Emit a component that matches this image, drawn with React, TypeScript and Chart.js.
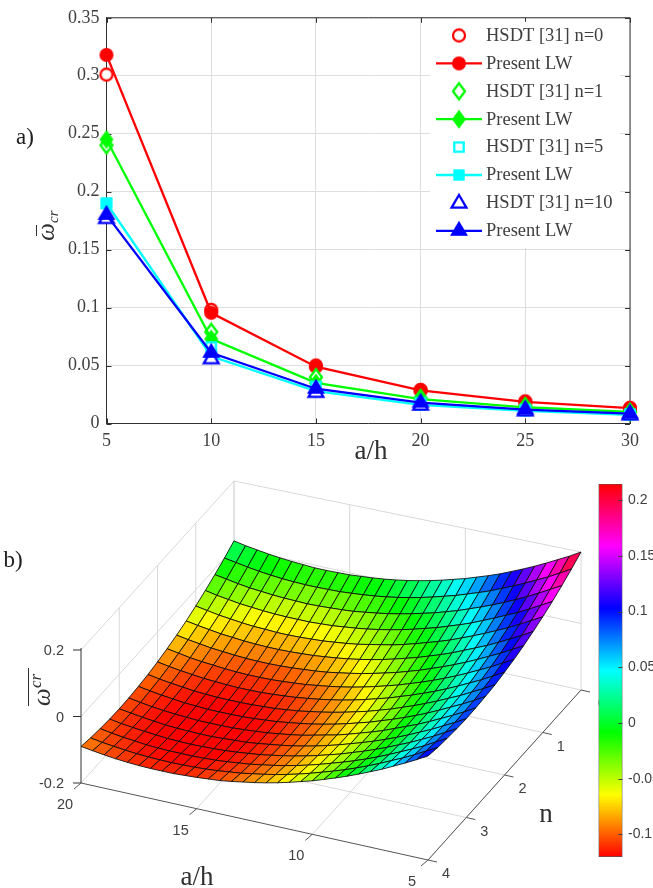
import { useEffect, useRef } from 'react';
import { Chart, registerables } from 'chart.js';

Chart.register(...registerables);

// ---------- panel a) ----------
const aOverH = [5, 10, 15, 20, 25, 30];
const hsdtN0 = [0.301, 0.098, 0.05, 0.029, 0.019, 0.0135];
const presentN0 = [0.318, 0.0955, 0.049, 0.0285, 0.0187, 0.0132];
const hsdtN1 = [0.24, 0.079, 0.04, 0.022, 0.015, 0.01];
const presentN1 = [0.245, 0.073, 0.035, 0.021, 0.014, 0.01];
const hsdtN5 = [0.19, 0.066, 0.032, 0.018, 0.012, 0.008];
const presentN5 = [0.19, 0.058, 0.028, 0.016, 0.011, 0.0075];
const hsdtN10 = [0.177, 0.056, 0.027, 0.016, 0.011, 0.0075];
const presentN10 = [0.18, 0.061, 0.03, 0.018, 0.012, 0.0085];
const yTicksA = [0, 0.05, 0.1, 0.15, 0.2, 0.25, 0.3, 0.35];
const yTickLabelsA = ['0', '0.05', '0.1', '0.15', '0.2', '0.25', '0.3', '0.35'];

// ---------- panel b) ----------
const surfaceAspect = [20, 19.5, 19, 18.5, 18, 17.5, 17, 16.5, 16, 15.5, 15, 14.5, 14, 13.5, 13, 12.5, 12, 11.5, 11, 10.5, 10, 9.5, 9, 8.5, 8, 7.5, 7, 6.5, 6, 5.5, 5];
const surfaceN = [0, 0.25, 0.5, 0.75, 1, 1.25, 1.5, 1.75, 2, 2.25, 2.5, 2.75, 3, 3.25, 3.5, 3.75, 4];
// one row per a/h, one column per n, in thousandths
const surfaceMilli = [
  [20, 0, -18, -34, -49, -62, -73, -82, -90, -96, -100, -103, -104, -103, -100, -96, -90],
  [13, -6, -24, -41, -55, -68, -79, -88, -96, -102, -106, -109, -109, -109, -106, -102, -95],
  [8, -12, -30, -46, -61, -73, -84, -94, -101, -107, -111, -114, -114, -113, -111, -106, -100],
  [3, -17, -35, -51, -65, -78, -89, -98, -105, -111, -115, -118, -118, -117, -114, -110, -104],
  [-1, -21, -38, -54, -69, -81, -92, -101, -109, -115, -119, -121, -122, -120, -118, -113, -107],
  [-4, -24, -41, -57, -72, -84, -95, -104, -111, -117, -121, -123, -124, -123, -120, -115, -109],
  [-6, -26, -43, -59, -73, -86, -97, -106, -113, -119, -123, -125, -125, -124, -121, -116, -110],
  [-8, -27, -44, -60, -75, -87, -98, -107, -114, -119, -123, -125, -126, -125, -121, -117, -110],
  [-8, -27, -45, -60, -75, -87, -98, -107, -114, -119, -123, -125, -126, -124, -121, -116, -110],
  [-7, -26, -44, -60, -74, -86, -97, -106, -113, -118, -122, -124, -124, -123, -120, -115, -108],
  [-6, -25, -42, -58, -72, -84, -95, -104, -111, -116, -120, -122, -122, -121, -118, -113, -106],
  [-3, -22, -40, -56, -70, -82, -92, -101, -108, -114, -117, -119, -120, -118, -115, -110, -103],
  [0, -19, -37, -52, -66, -78, -89, -98, -105, -110, -114, -116, -116, -114, -111, -106, -100],
  [4, -15, -32, -48, -62, -74, -85, -93, -100, -106, -109, -111, -111, -110, -107, -102, -95],
  [9, -10, -27, -43, -57, -69, -79, -88, -95, -100, -104, -106, -106, -104, -101, -96, -89],
  [15, -4, -21, -37, -50, -63, -73, -82, -89, -94, -98, -100, -100, -98, -95, -90, -83],
  [22, 3, -14, -30, -43, -56, -66, -75, -82, -87, -91, -92, -93, -91, -88, -83, -76],
  [30, 11, -6, -22, -36, -48, -58, -67, -74, -79, -83, -84, -85, -83, -80, -75, -68],
  [39, 20, 3, -13, -27, -39, -49, -58, -65, -70, -74, -76, -76, -74, -71, -66, -59],
  [49, 30, 12, -3, -17, -29, -40, -48, -55, -61, -64, -66, -66, -64, -61, -56, -49],
  [59, 40, 23, 7, -6, -19, -29, -38, -45, -50, -54, -55, -55, -54, -50, -45, -39],
  [71, 52, 34, 19, 5, -7, -18, -26, -33, -39, -42, -44, -44, -42, -39, -34, -27],
  [83, 64, 47, 31, 17, 5, -5, -14, -21, -26, -30, -32, -32, -30, -27, -22, -15],
  [96, 77, 60, 44, 31, 18, 8, -1, -8, -13, -17, -18, -19, -17, -14, -9, -2],
  [111, 92, 74, 59, 45, 33, 22, 13, 6, 1, -3, -4, -5, -3, 0, 5, 12],
  [126, 107, 89, 74, 60, 48, 37, 28, 21, 16, 12, 10, 10, 12, 15, 20, 27],
  [142, 123, 105, 90, 76, 63, 53, 44, 37, 32, 28, 26, 26, 27, 31, 36, 42],
  [159, 140, 122, 106, 92, 80, 70, 61, 54, 48, 45, 43, 42, 44, 47, 52, 59],
  [177, 157, 140, 124, 110, 98, 87, 78, 71, 66, 62, 60, 60, 61, 64, 69, 76],
  [195, 176, 159, 143, 129, 116, 106, 97, 90, 84, 80, 78, 78, 80, 83, 88, 94],
  [215, 196, 178, 162, 148, 136, 125, 116, 109, 103, 100, 98, 97, 99, 102, 106, 113],
];
const zAxisTicks = [-0.2, 0, 0.2];
const zAxisLabels = ['-0.2', '0', '0.2'];
const aAxisTicks = [20, 15, 10, 5];
const nAxisTicks = [0, 1, 2, 3, 4];

// ---------- colour bar ----------
const colorbarRange = [-0.1203, 0.2146];
const colorbarTicks = [-0.1, -0.05, 0, 0.05, 0.1, 0.15, 0.2];
const colorbarLabels = ['-0.1', '-0.05', '0', '0.05', '0.1', '0.15', '0.2'];
const colorbarHues = [0, 60, 120, 180, 240, 300, 360];

const SERIF = '"Liberation Serif", "Times New Roman", serif';
const SANS = '"Liberation Sans", Arial, sans-serif';
const TEXT = '#404040';

type Shape = 'circle' | 'diamond' | 'square' | 'triangle';

function marker(shape: Shape, color: string, filled: boolean): HTMLCanvasElement {
  const c = document.createElement('canvas');
  c.width = 28;
  c.height = 28;
  const g = c.getContext('2d')!;
  g.translate(14, 14);
  g.beginPath();
  if (shape === 'circle') {
    g.arc(0, 0, filled ? 7 : 6, 0, Math.PI * 2);
  } else if (shape === 'diamond') {
    const w = filled ? 7 : 6;
    const h = filled ? 9.5 : 8;
    g.moveTo(0, -h);
    g.lineTo(w, 0);
    g.lineTo(0, h);
    g.lineTo(-w, 0);
    g.closePath();
  } else if (shape === 'square') {
    const s = filled ? 5.7 : 4.7;
    g.rect(-s, -s, s * 2, s * 2);
  } else {
    if (filled) {
      g.moveTo(0, -10);
      g.lineTo(9, 5);
      g.lineTo(-9, 5);
    } else {
      g.moveTo(0, -8);
      g.lineTo(7.4, 4.6);
      g.lineTo(-7.4, 4.6);
    }
    g.closePath();
  }
  if (filled) {
    g.fillStyle = color;
    g.fill();
  } else {
    g.fillStyle = '#ffffff';
    g.fill();
    g.lineWidth = 2.3;
    g.strokeStyle = color;
    g.stroke();
  }
  return c;
}

function lineDataset(label: string, values: number[], color: string, shape: Shape, present: boolean, order: number) {
  return {
    label,
    data: values.map((y, i) => ({ x: aOverH[i], y })),
    borderColor: color,
    backgroundColor: color,
    borderWidth: 2.3,
    showLine: present,
    pointStyle: marker(shape, color, present),
    pointRadius: 7,
    pointHoverRadius: 7,
    clip: false,
    order,
  };
}

const panelAOverlay = {
  id: 'panelAOverlay',
  beforeDatasetsDraw(chart: any) {
    const { ctx, chartArea: a, scales } = chart;
    ctx.save();
    ctx.strokeStyle = '#303030';
    ctx.lineWidth = 1;
    ctx.beginPath();
    ctx.moveTo(a.left, a.top);
    ctx.lineTo(a.right, a.top);
    ctx.lineTo(a.right, a.bottom);
    for (const v of aOverH) {
      const x = Math.round(scales.x.getPixelForValue(v)) + 0.5;
      ctx.moveTo(x, a.bottom);
      ctx.lineTo(x, a.bottom - 5);
      ctx.moveTo(x, a.top);
      ctx.lineTo(x, a.top + 5);
    }
    for (const v of yTicksA) {
      const y = Math.round(scales.y.getPixelForValue(v)) + 0.5;
      ctx.moveTo(a.left, y);
      ctx.lineTo(a.left + 5, y);
      ctx.moveTo(a.right, y);
      ctx.lineTo(a.right - 5, y);
    }
    ctx.stroke();
    ctx.restore();
  },
  afterDatasetsDraw(chart: any) {
    const { ctx, chartArea: a } = chart;
    ctx.save();
    // legend box
    ctx.fillStyle = '#ffffff';
    ctx.fillRect(430, a.top + 4, 190, 226);
    ctx.textBaseline = 'middle';
    ctx.textAlign = 'left';
    ctx.font = `18.5px ${SERIF}`;
    chart.data.datasets.forEach((d: any, i: number) => {
      const y = 35.5 + i * 27.9;
      if (d.showLine) {
        ctx.strokeStyle = d.borderColor;
        ctx.lineWidth = 2.3;
        ctx.beginPath();
        ctx.moveTo(436, y);
        ctx.lineTo(482, y);
        ctx.stroke();
      }
      ctx.drawImage(d.pointStyle, 459 - 14, y - 14);
      ctx.fillStyle = TEXT;
      ctx.fillText(d.label, 486, y + 0.5);
    });
    // titles
    ctx.fillStyle = '#303030';
    ctx.font = `27px ${SERIF}`;
    ctx.textAlign = 'center';
    ctx.fillText('a/h', 371, 452);
    ctx.fillStyle = '#202020';
    ctx.font = `23px ${SERIF}`;
    ctx.fillText('a)', 25, 138);
    // rotated y title
    ctx.fillStyle = '#303030';
    ctx.save();
    ctx.translate(54, 232);
    ctx.rotate(-Math.PI / 2);
    ctx.font = `italic 25px ${SERIF}`;
    ctx.textBaseline = 'alphabetic';
    ctx.fillText('\u03c9', 0, 0);
    ctx.font = `italic 15px ${SERIF}`;
    ctx.textAlign = 'left';
    ctx.fillText('cr', 9, 4);
    ctx.restore();
    ctx.strokeStyle = '#303030';
    ctx.lineWidth = 1;
    ctx.beginPath();
    ctx.moveTo(36.5, 225);
    ctx.lineTo(36.5, 236);
    ctx.stroke();
    ctx.restore();
  },
};

// floor corners of the box in plane coordinates
const F1 = { x: 81, y: 783 }; // a/h 20, n 4
const F2 = { x: 428, y: 860 }; // a/h 5, n 4
const F3 = { x: 581, y: 690 }; // a/h 5, n 0
const F4 = { x: 234, y: 614 }; // a/h 20, n 0
const Z_PX = 332.5;

function project(aVal: number, nVal: number, z: number) {
  const t = (20 - aVal) / 15;
  const s = nVal / 4;
  const bx = F4.x + (F3.x - F4.x) * t;
  const by = F4.y + (F3.y - F4.y) * t;
  const fx = F1.x + (F2.x - F1.x) * t;
  const fy = F1.y + (F2.y - F1.y) * t;
  return { x: bx + (fx - bx) * s, y: by + (fy - by) * s - (z + 0.2) * Z_PX };
}

function hueFor(z: number) {
  const h = ((z - colorbarRange[0]) / (colorbarRange[1] - colorbarRange[0])) * 360;
  return `hsl(${Math.max(0, Math.min(360, h))},100%,50%)`;
}

const surfacePoints = surfaceAspect.flatMap((aVal, i) =>
  surfaceN.map((nVal, j) => project(aVal, nVal, surfaceMilli[i][j] / 1000)),
);

const surfacePlugin = {
  id: 'surfacePlugin',
  beforeDatasetsDraw(chart: any) {
    const { ctx, scales } = chart;
    const px = (p: { x: number; y: number }) => ({ x: scales.x.getPixelForValue(p.x), y: scales.y.getPixelForValue(p.y) });
    const seg = (a: { x: number; y: number }, b: { x: number; y: number }) => {
      const pa = px(a);
      const pb = px(b);
      ctx.beginPath();
      ctx.moveTo(pa.x, pa.y);
      ctx.lineTo(pb.x, pb.y);
      ctx.stroke();
    };
    ctx.save();
    // back planes
    ctx.strokeStyle = '#d8d8d8';
    ctx.lineWidth = 1;
    const topBack = (aVal: number) => {
      const t = (20 - aVal) / 15;
      return { x: 234 + 347 * t, y: 481 + 71 * t };
    };
    const topLeft = (nVal: number) => {
      const s = nVal / 4;
      return { x: 234 - 153 * s, y: 481 + 169 * s };
    };
    for (const n of nAxisTicks.slice(0, 4)) {
      seg(project(20, n, -0.2), topLeft(n));
      seg(project(5, n, -0.2), project(20, n, -0.2));
    }
    for (const aVal of aAxisTicks.slice(0, 4)) {
      seg(project(aVal, 0, -0.2), topBack(aVal));
      seg(project(aVal, 0, -0.2), project(aVal, 4, -0.2));
    }
    seg(topLeft(4), topLeft(0));
    seg(topBack(20), topBack(5));
    seg(project(20, 4, 0), project(20, 0, 0));
    seg(project(20, 0, 0), project(5, 0, 0));
    // mesh
    const rows = surfaceAspect.length;
    const cols = surfaceN.length;
    const pts = chart.data.datasets[0].data;
    ctx.strokeStyle = 'rgba(10,10,10,0.85)';
    ctx.lineWidth = 1;
    ctx.lineJoin = 'round';
    for (let j = 0; j < cols - 1; j++) {
      for (let i = 0; i < rows - 1; i++) {
        const p = [pts[i * cols + j], pts[(i + 1) * cols + j], pts[(i + 1) * cols + j + 1], pts[i * cols + j + 1]].map(px);
        const z = (surfaceMilli[i][j] + surfaceMilli[i + 1][j] + surfaceMilli[i + 1][j + 1] + surfaceMilli[i][j + 1]) / 4000;
        ctx.beginPath();
        ctx.moveTo(p[0].x, p[0].y);
        ctx.lineTo(p[1].x, p[1].y);
        ctx.lineTo(p[2].x, p[2].y);
        ctx.lineTo(p[3].x, p[3].y);
        ctx.closePath();
        ctx.fillStyle = hueFor(z);
        ctx.fill();
        ctx.stroke();
      }
    }
    // axes
    ctx.strokeStyle = '#555555';
    ctx.lineWidth = 1;
    seg(project(20, 4, -0.2), project(5, 4, -0.2));
    seg(project(5, 4, -0.2), project(5, 0, -0.2));
    ctx.strokeStyle = '#303030';
    seg({ x: 81, y: 783 }, { x: 81, y: 648 });
    for (const z of zAxisTicks) {
      const p = project(20, 4, z);
      seg({ x: p.x - 8, y: p.y }, p);
    }
    ctx.strokeStyle = '#555555';
    for (const aVal of aAxisTicks) {
      const p = project(aVal, 4, -0.2);
      seg(p, { x: p.x - 7, y: p.y + 6 });
    }
    for (const n of nAxisTicks) {
      const p = project(5, n, -0.2);
      seg(p, { x: p.x + 9, y: p.y + 2 });
    }
    // tick labels
    ctx.fillStyle = TEXT;
    ctx.font = `14.5px ${SANS}`;
    ctx.textBaseline = 'middle';
    ctx.textAlign = 'right';
    const shift = -470;
    zAxisTicks.forEach((z, i) => {
      const p = project(20, 4, z);
      ctx.fillText(zAxisLabels[i], 64, p.y + shift + 1);
    });
    ctx.textAlign = 'center';
    aAxisTicks.forEach((aVal) => {
      const p = project(aVal, 4, -0.2);
      ctx.fillText(String(aVal), p.x - 16, p.y + shift + 22);
    });
    nAxisTicks.forEach((n) => {
      const p = project(5, n, -0.2);
      ctx.fillText(String(n), p.x + (n === 0 ? 21 : 18), p.y + shift + 14);
    });
    // titles
    ctx.fillStyle = '#303030';
    ctx.font = `27px ${SERIF}`;
    ctx.fillText('a/h', 197, 878 + shift);
    ctx.fillText('n', 546, 815 + shift);
    ctx.fillStyle = '#202020';
    ctx.font = `23px ${SERIF}`;
    ctx.fillText('b)', 13, 561 + shift);
    ctx.save();
    ctx.fillStyle = '#303030';
    ctx.translate(50, 706 + shift);
    ctx.rotate(-Math.PI / 2);
    ctx.textAlign = 'left';
    ctx.textBaseline = 'alphabetic';
    ctx.font = `italic 25px ${SERIF}`;
    ctx.fillText('\u03c9', 0, 0);
    ctx.font = `italic 17px ${SERIF}`;
    ctx.fillText('cr', 18, -9);
    ctx.restore();
    ctx.strokeStyle = '#303030';
    ctx.beginPath();
    ctx.moveTo(28.5, 668 + shift);
    ctx.lineTo(28.5, 706 + shift);
    ctx.stroke();
    ctx.restore();
  },
};

const colorbarTickPlugin = {
  id: 'colorbarTicks',
  afterDatasetsDraw(chart: any) {
    const { ctx, chartArea: a, scales } = chart;
    ctx.save();
    ctx.strokeStyle = '#404040';
    ctx.beginPath();
    for (const v of colorbarTicks) {
      const y = Math.round(scales.y.getPixelForValue(v)) + 0.5;
      ctx.moveTo(a.right, y);
      ctx.lineTo(a.right - 4, y);
    }
    ctx.stroke();
    ctx.restore();
  },
};

export default function App() {
  const topRef = useRef<HTMLCanvasElement>(null);
  const surfaceRef = useRef<HTMLCanvasElement>(null);
  const barRef = useRef<HTMLCanvasElement>(null);

  useEffect(() => {
    const top = new Chart(topRef.current!, {
      type: 'scatter',
      data: {
        datasets: [
          lineDataset('HSDT [31] n=0', hsdtN0, '#ff0000', 'circle', false, 8),
          lineDataset('Present LW', presentN0, '#ff0000', 'circle', true, 7),
          lineDataset('HSDT [31] n=1', hsdtN1, '#00ff00', 'diamond', false, 6),
          lineDataset('Present LW', presentN1, '#00ff00', 'diamond', true, 5),
          lineDataset('HSDT [31] n=5', hsdtN5, '#00ffff', 'square', false, 4),
          lineDataset('Present LW', presentN5, '#00ffff', 'square', true, 3),
          lineDataset('HSDT [31] n=10', hsdtN10, '#0000ff', 'triangle', false, 2),
          lineDataset('Present LW', presentN10, '#0000ff', 'triangle', true, 1),
        ] as any,
      },
      options: {
        animation: false,
        responsive: false,
        devicePixelRatio: 1,
        layout: { padding: { top: 17.5, right: 23, left: 0, bottom: 0 } },
        plugins: { legend: { display: false }, tooltip: { enabled: false } },
        scales: {
          x: {
            type: 'linear',
            min: 5,
            max: 30,
            afterBuildTicks: (s: any) => {
              s.ticks = aOverH.map((value) => ({ value }));
            },
            afterFit: (s: any) => {
              s.height = 46.5;
            },
            grid: { color: '#dedede', drawTicks: false, lineWidth: 1 },
            border: { color: '#303030' },
            ticks: { color: TEXT, font: { family: SERIF, size: 18 }, padding: 7, maxRotation: 0, callback: (v: any) => String(v) },
          },
          y: {
            type: 'linear',
            min: 0,
            max: 0.35,
            afterBuildTicks: (s: any) => {
              s.ticks = yTicksA.map((value) => ({ value }));
            },
            afterFit: (s: any) => {
              s.width = 106.5;
            },
            grid: { color: '#dedede', drawTicks: false, lineWidth: 1 },
            border: { color: '#303030' },
            ticks: {
              color: TEXT,
              font: { family: SERIF, size: 18 },
              padding: 7,
              callback: (v: any) => yTickLabelsA[yTicksA.indexOf(v)] ?? '',
            },
          },
        },
      },
      plugins: [panelAOverlay],
    } as any);

    const surface = new Chart(surfaceRef.current!, {
      type: 'scatter',
      data: { datasets: [{ label: 'surface', data: surfacePoints, pointRadius: 0, showLine: false }] },
      options: {
        animation: false,
        responsive: false,
        devicePixelRatio: 1,
        layout: { padding: 0 },
        plugins: { legend: { display: false }, tooltip: { enabled: false } },
        scales: {
          x: { type: 'linear', min: 0, max: 653, display: false },
          y: { type: 'linear', min: 470, max: 888, reverse: true, display: false },
        },
      },
      plugins: [surfacePlugin],
    } as any);

    const bar = new Chart(barRef.current!, {
      type: 'bar',
      data: {
        labels: ['colour'],
        datasets: [
          {
            data: [colorbarRange],
            barPercentage: 1,
            categoryPercentage: 1,
            borderWidth: 1,
            borderColor: '#555555',
            borderSkipped: false,
            backgroundColor: (c: any) => {
              const a = c.chart.chartArea;
              if (!a) return '#00ff00';
              const g = c.chart.ctx.createLinearGradient(0, a.bottom, 0, a.top);
              colorbarHues.forEach((h, i) => g.addColorStop(i / (colorbarHues.length - 1), `hsl(${h},100%,50%)`));
              return g;
            },
          },
        ],
      },
      options: {
        animation: false,
        responsive: false,
        devicePixelRatio: 1,
        layout: { padding: { left: 8.5, top: 4, bottom: 31, right: 0 } },
        plugins: { legend: { display: false }, tooltip: { enabled: false } },
        scales: {
          x: { display: false },
          y: {
            type: 'linear',
            position: 'right',
            min: colorbarRange[0],
            max: colorbarRange[1],
            afterBuildTicks: (s: any) => {
              s.ticks = colorbarTicks.map((value) => ({ value }));
            },
            afterFit: (s: any) => {
              s.width = 87.5;
            },
            grid: { display: false, drawTicks: false },
            border: { display: false },
            ticks: {
              color: TEXT,
              font: { family: SANS, size: 14 },
              padding: 5.5,
              callback: (v: any) => colorbarLabels[colorbarTicks.indexOf(v)] ?? '',
            },
          },
        },
      },
      plugins: [colorbarTickPlugin],
    } as any);

    return () => {
      top.destroy();
      surface.destroy();
      bar.destroy();
    };
  }, []);

  const abs = { position: 'absolute', display: 'block', filter: 'blur(0.35px)' } as const;
  return (
    <div style={{ position: 'absolute', left: 0, top: 0, width: 653, height: 888, overflow: 'hidden', background: '#fff' }}>
      <canvas ref={topRef} width={653} height={470} style={{ ...abs, left: 0, top: 0, width: 653, height: 470 }} />
      <canvas ref={surfaceRef} width={653} height={418} style={{ ...abs, left: 0, top: 470, width: 653, height: 418 }} />
      <canvas ref={barRef} width={120} height={418} style={{ ...abs, left: 590, top: 470, width: 120, height: 418 }} />
    </div>
  );
}
